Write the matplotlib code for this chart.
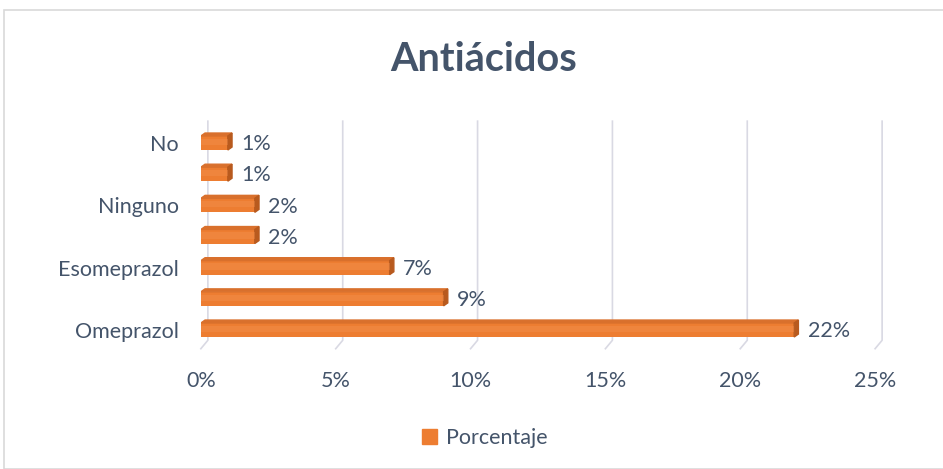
import matplotlib
matplotlib.use('Agg')
import matplotlib.pyplot as plt
from matplotlib.patches import Polygon, Rectangle, Patch

# data, bottom to top
categories = ['Omeprazol', '', 'Esomeprazol', '', 'Ninguno', '', 'No']
values = [22, 9, 7, 2, 2, 1, 1]
xticks = [0, 5, 10, 15, 20, 25]
xtick_labels = ['0%', '5%', '10%', '15%', '20%', '25%']

txt = '#44546A'
orange = '#ED7D31'
orange_dark = '#B85A1E'
grid_col = '#D9D9E3'

plt.rcParams['font.family'] = ['Lato', 'DejaVu Sans']

fig = plt.figure(figsize=(9.43, 4.69), dpi=100)
fig.patches.append(Rectangle((4 / 943, 0), 1, 1 - 10 / 469, transform=fig.transFigure,
                             fill=False, edgecolor='#D9D9D9', linewidth=1.2))

ax = fig.add_axes([0.213, 0.2565, 0.715, 0.4785])
ax.set_xlim(0, 25)
ax.set_ylim(-0.6, 6.6)

# back-wall gridlines with small perspective step
dx, dy = 0.26, 0.27
for x in xticks:
    ax.plot([x + dx, x + dx, x], [6.7, -0.6 + dy, -0.6], color=grid_col,
            linewidth=1.2, clip_on=False, zorder=1)

h = 0.45
ypos = list(range(len(values)))
ax.barh(ypos, values, height=h, color=orange, zorder=3)
for y, v in zip(ypos, values):
    # soft highlight in the middle of the bar
    ax.barh(y + h * 0.08, v, height=h * 0.45, color='#F59656', alpha=0.35,
            linewidth=0, zorder=4)
    # top face and right side face for the 3D look
    ax.add_patch(Polygon([(0, y + h / 2), (dx * 0.6, y + h / 2 + dy * 0.35),
                          (v + dx * 0.6, y + h / 2 + dy * 0.35), (v, y + h / 2)],
                         closed=True, color='#D9702C', zorder=3))
    ax.add_patch(Polygon([(v, y - h / 2), (v + dx * 0.6, y - h / 2 + dy * 0.35),
                          (v + dx * 0.6, y + h / 2 + dy * 0.35), (v, y + h / 2)],
                         closed=True, color=orange_dark, zorder=3))
    ax.text(v + 0.5, y - 0.04, f'{v}%', va='center', ha='left', fontsize=15.5, color=txt)

ax.set_yticks(ypos)
ax.set_yticklabels(categories, fontsize=15.5, color=txt)
ax.set_xticks(xticks)
ax.set_xticklabels(xtick_labels, fontsize=15.5, color=txt)
ax.tick_params(length=0, pad=16, axis='y')
ax.tick_params(length=0, pad=16, axis='x')
for s in ax.spines.values():
    s.set_visible(False)

fig.text(0.513, 0.873, 'Antiácidos', ha='center', va='center', fontsize=28.5,
         fontweight='bold', color=txt)

fig.legend(handles=[Patch(color=orange, label='Porcentaje')], loc='center',
           bbox_to_anchor=(0.514, 0.066), frameon=False, fontsize=15.5,
           handlelength=0.7, handleheight=0.7, handletextpad=0.4, labelcolor=txt)

fig.savefig('out.png', dpi=100)
